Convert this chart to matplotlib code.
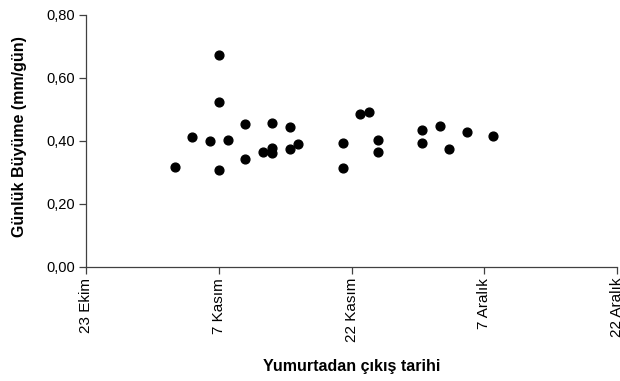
import pandas as pd
import matplotlib
matplotlib.use("Agg")
import matplotlib.pyplot as plt

plt.rcParams["font.family"] = ["Liberation Sans", "DejaVu Sans"]

# Veriler: yumurtadan çıkış tarihi ve günlük büyüme (mm/gün)
tarihler = [
    "2008-11-02", "2008-11-04", "2008-11-06", "2008-11-07", "2008-11-07",
    "2008-11-07", "2008-11-08", "2008-11-10", "2008-11-10", "2008-11-12",
    "2008-11-13", "2008-11-13", "2008-11-13", "2008-11-15", "2008-11-15",
    "2008-11-16", "2008-11-21", "2008-11-21", "2008-11-23", "2008-11-24",
    "2008-11-25", "2008-11-25", "2008-11-30", "2008-11-30", "2008-12-02",
    "2008-12-03", "2008-12-05", "2008-12-08",
]
buyume = [
    0.318, 0.413, 0.400, 0.672, 0.524,
    0.307, 0.403, 0.452, 0.343, 0.363,
    0.455, 0.376, 0.360, 0.444, 0.375,
    0.389, 0.393, 0.312, 0.485, 0.491,
    0.402, 0.364, 0.435, 0.393, 0.447,
    0.375, 0.428, 0.414,
]
tick_tarihleri = ["2008-10-23", "2008-11-07", "2008-11-22", "2008-12-07", "2008-12-22"]
tick_etiketleri = ["23 Ekim", "7 Kasım", "22 Kasım", "7 Aralık", "22 Aralık"]

x = pd.to_datetime(tarihler)
ticks = pd.to_datetime(tick_tarihleri)

fig = plt.figure(figsize=(6.2, 3.81), dpi=100)
ax = fig.add_axes([86 / 620, 1 - 266.7 / 381, 531 / 620, 252 / 381])

ax.scatter(x, buyume, s=40, color="black", zorder=3, clip_on=False)

ax.set_xlim(ticks[0], ticks[-1])
ax.set_ylim(0, 0.8)
ax.set_xticks(ticks)
ax.set_xticklabels(tick_etiketleri, rotation=90, fontsize=11)
ax.set_yticks([0, 0.2, 0.4, 0.6, 0.8])
ax.set_yticklabels(["0,00", "0,20", "0,40", "0,60", "0,80"], fontsize=10.5)

for s in ["top", "right"]:
    ax.spines[s].set_visible(False)
for s in ["left", "bottom"]:
    ax.spines[s].set_color("#404040")
    ax.spines[s].set_linewidth(0.9)
ax.tick_params(axis="both", direction="out", length=5, width=0.9, color="#404040", pad=3)

fig.text(20 / 620, 1 - 137 / 381, "Günlük Büyüme (mm/gün)", fontsize=11.5,
         fontweight="bold", rotation=90, ha="center", va="center")
fig.text(352 / 620, 1 - 367 / 381, "Yumurtadan çıkış tarihi", fontsize=11.5,
         fontweight="bold", ha="center", va="center")

fig.savefig("out.png", dpi=100)
